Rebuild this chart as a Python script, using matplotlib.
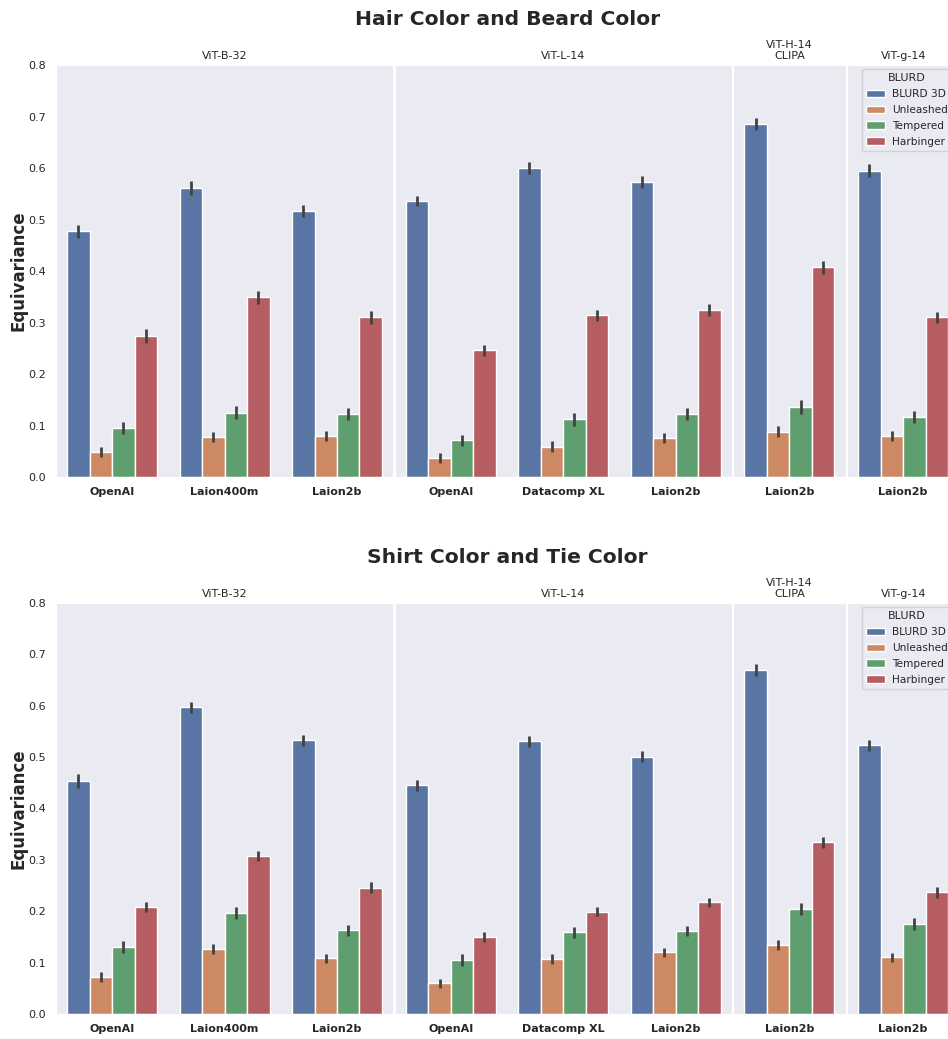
import matplotlib
matplotlib.use("Agg")
import matplotlib.pyplot as plt
import seaborn as sns
import numpy as np

sns.set_style("dark")

# Data
series = ["BLURD 3D", "Unleashed", "Tempered", "Harbinger"]
models = ["ViT-B-32", "ViT-L-14", "ViT-H-14\nCLIPA", "ViT-g-14"]
datasets = [["OpenAI", "Laion400m", "Laion2b"],
            ["OpenAI", "Datacomp XL", "Laion2b"],
            ["Laion2b"],
            ["Laion2b"]]

titles = ["Hair Color and Beard Color", "Shirt Color and Tie Color"]

# values per model: rows = datasets, cols = series
hair_vals = [
    [[0.477, 0.048, 0.095, 0.274],
     [0.561, 0.078, 0.125, 0.349],
     [0.517, 0.079, 0.122, 0.310]],
    [[0.536, 0.037, 0.071, 0.246],
     [0.600, 0.059, 0.112, 0.314],
     [0.573, 0.076, 0.122, 0.324]],
    [[0.685, 0.088, 0.136, 0.407]],
    [[0.595, 0.080, 0.117, 0.310]],
]
hair_err = [
    [[0.013, 0.010, 0.011, 0.013],
     [0.013, 0.010, 0.012, 0.013],
     [0.012, 0.010, 0.012, 0.012]],
    [[0.010, 0.009, 0.011, 0.011],
     [0.012, 0.010, 0.012, 0.011],
     [0.012, 0.010, 0.012, 0.011]],
    [[0.012, 0.011, 0.013, 0.012]],
    [[0.012, 0.010, 0.012, 0.011]],
]
shirt_vals = [
    [[0.453, 0.072, 0.130, 0.208],
     [0.597, 0.126, 0.196, 0.307],
     [0.533, 0.108, 0.163, 0.246]],
    [[0.445, 0.060, 0.105, 0.150],
     [0.531, 0.107, 0.159, 0.199],
     [0.501, 0.120, 0.161, 0.217]],
    [[0.670, 0.134, 0.204, 0.334]],
    [[0.523, 0.110, 0.175, 0.237]],
]
shirt_err = [
    [[0.014, 0.010, 0.012, 0.010],
     [0.011, 0.010, 0.012, 0.010],
     [0.011, 0.009, 0.011, 0.010]],
    [[0.011, 0.009, 0.011, 0.010],
     [0.011, 0.009, 0.011, 0.009],
     [0.011, 0.009, 0.010, 0.009]],
    [[0.012, 0.010, 0.012, 0.011]],
    [[0.011, 0.009, 0.011, 0.011]],
]

colors = [sns.desaturate(c, 0.75) for c in sns.color_palette("deep", 4)]

fig = plt.figure(figsize=(9.48, 10.39), dpi=100)

rows = [(hair_vals, hair_err, 0.9374, 0.5409, 0.9808),
        (shirt_vals, shirt_err, 0.4196, 0.0241, 0.4639)]
for r, (vals, errs, top, bottom, ty) in enumerate(rows):
    gs = fig.add_gridspec(1, 4, left=0.059, right=1.012, top=top, bottom=bottom,
                          width_ratios=[3, 3, 1, 1], wspace=0.006)
    axes = []
    for m in range(4):
        ax = fig.add_subplot(gs[0, m], sharey=axes[0] if axes else None)
        axes.append(ax)
        v = np.array(vals[m])
        e = np.array(errs[m])
        n = len(datasets[m])
        x = np.arange(n)
        w = 0.8 / 4
        for s in range(4):
            xs = x - 0.4 + w * (s + 0.5)
            ax.bar(xs, v[:, s], width=w, color=colors[s], edgecolor="white",
                   linewidth=1, label=series[s])
            ax.errorbar(xs, v[:, s], yerr=e[:, s], fmt="none", ecolor="#424242",
                        elinewidth=2, capsize=0)
        ax.set_xlim(-0.5, n - 0.5)
        ax.set_ylim(0, 0.8)
        ax.set_xticks(x)
        ax.set_xticklabels(datasets[m], fontsize=8, fontweight="bold")
        ax.set_title(models[m], fontsize=8, pad=4)
        ax.tick_params(axis="y", labelsize=8)
        if m == 0:
            ax.set_ylabel("Equivariance", fontsize=12, fontweight="bold", labelpad=0.5)
        else:
            ax.tick_params(axis="y", labelleft=False)
        if m == 3:
            ax.legend(title="BLURD", loc="upper left", bbox_to_anchor=(0.13, 0.99),
                      borderaxespad=0, fontsize=7.6, title_fontsize=8,
                      handlelength=1.8, handletextpad=0.7, labelspacing=0.55,
                      borderpad=0.4)
    fig.text(0.5353, ty, titles[r], ha="center", va="center",
             fontsize=14.6, fontweight="bold", color="#262626")

fig.savefig("out.png", dpi=100)
